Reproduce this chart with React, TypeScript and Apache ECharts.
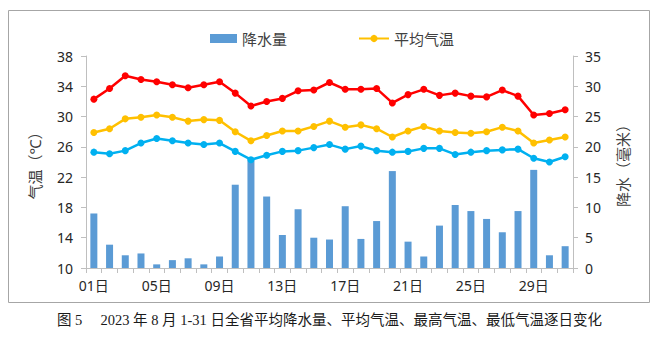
import React, { useEffect, useRef } from "react";
import * as echarts from "echarts";

const days: string[] = Array.from({ length: 31 }, (_, i) => String(i + 1).padStart(2, "0") + "日");

const precip: number[] = [
  9.0, 3.85, 2.1, 2.4, 0.6, 1.3, 1.6, 0.6, 1.9, 13.75,
  18.2, 11.8, 5.45, 9.7, 5.0, 4.7, 10.2, 4.8, 7.75, 16.0,
  4.35, 1.9, 7.0, 10.4, 9.4, 8.1, 5.9, 9.4, 16.2, 2.1, 3.6,
];

const maxTemp: number[] = [
  32.3, 33.7, 35.4, 34.9, 34.6, 34.2, 33.8, 34.2, 34.6, 33.1,
  31.4, 32.0, 32.4, 33.4, 33.5, 34.5, 33.6, 33.6, 33.7, 31.8,
  32.9, 33.6, 32.8, 33.1, 32.7, 32.6, 33.5, 32.7, 30.2, 30.4, 30.9,
];

const avgTemp: number[] = [
  27.9, 28.4, 29.7, 29.9, 30.2, 29.9, 29.4, 29.6, 29.5, 28.0,
  26.8, 27.5, 28.1, 28.1, 28.7, 29.4, 28.6, 28.9, 28.4, 27.3,
  28.1, 28.7, 28.1, 27.9, 27.8, 28.0, 28.6, 28.1, 26.5, 26.9, 27.3,
];

const minTemp: number[] = [
  25.3, 25.1, 25.5, 26.5, 27.1, 26.8, 26.5, 26.3, 26.5, 25.4,
  24.3, 24.9, 25.4, 25.5, 25.9, 26.3, 25.7, 26.1, 25.5, 25.3,
  25.4, 25.8, 25.8, 25.0, 25.3, 25.5, 25.6, 25.7, 24.5, 24.0, 24.7,
];

const tempTicks: number[] = [10, 14, 18, 22, 26, 30, 34, 38];

const caption = "图 5\u3000 2023 年 8 月 1-31 日全省平均降水量、平均气温、最高气温、最低气温逐日变化";

const FONT = "'Noto Sans', 'Noto Sans CJK SC', sans-serif";

export default function App() {
  const ref = useRef<HTMLDivElement>(null);
  useEffect(() => {
    if (!ref.current) return;
    const chart = echarts.init(ref.current, null, { renderer: "svg" });
    const axisColor = "#bfbfbf";
    const labelColor = "#262626";
    const lineSeries = (name: string, data: number[], color: string) => ({
      name,
      type: "line",
      yAxisIndex: 0,
      data,
      symbol: "circle",
      symbolSize: 7,
      lineStyle: { color, width: 2.5 },
      itemStyle: { color },
      z: 3,
    });
    chart.setOption({
      animation: false,
      backgroundColor: "#ffffff",
      textStyle: { fontFamily: FONT },
      grid: { left: 86, right: 86, top: 56, bottom: 71, containLabel: false },
      legend: [
        {
          data: ["降水量"],
          left: 205,
          top: 26,
          itemWidth: 27,
          itemHeight: 9,
          itemGap: 5,
          textStyle: { fontSize: 15, color: "#404040", fontFamily: FONT },
          icon: "rect",
        },
        {
          data: ["平均气温"],
          left: 353,
          top: 26,
          itemWidth: 30,
          itemHeight: 9,
          textStyle: { fontSize: 15, color: "#404040", fontFamily: FONT },
        },
      ],
      xAxis: {
        type: "category",
        data: days,
        boundaryGap: true,
        axisLine: { lineStyle: { color: axisColor, width: 1 } },
        axisTick: { show: true, interval: 0, length: 5, lineStyle: { color: axisColor } },
        axisLabel: { interval: 3, fontSize: 14, color: labelColor, margin: 10, fontFamily: FONT },
        splitLine: { show: false },
      },
      yAxis: [
        {
          type: "value",
          min: 10,
          max: 38,
          position: "left",
          name: "气温（℃）",
          nameLocation: "middle",
          nameRotate: 90,
          nameGap: 44,
          nameTextStyle: { fontSize: 15, color: "#404040", fontFamily: FONT },
          axisLine: { show: true, lineStyle: { color: axisColor } },
          axisTick: { show: true, length: 5, inside: false, customValues: tempTicks, lineStyle: { color: axisColor } },
          axisLabel: { fontSize: 14, color: labelColor, margin: 13, customValues: tempTicks, fontFamily: FONT },
          splitLine: { show: false },
        },
        {
          type: "value",
          min: 0,
          max: 35,
          interval: 5,
          position: "right",
          name: "降水（毫米）",
          nameLocation: "middle",
          nameRotate: 90,
          nameGap: 42,
          nameTextStyle: { fontSize: 15, color: "#404040", fontFamily: FONT },
          axisLine: { show: true, lineStyle: { color: axisColor } },
          axisTick: { show: true, length: 5, inside: false, lineStyle: { color: axisColor } },
          axisLabel: { fontSize: 14, color: labelColor, margin: 12, fontFamily: FONT },
          splitLine: { show: false },
        },
      ],
      series: [
        {
          name: "降水量",
          type: "bar",
          yAxisIndex: 1,
          data: precip,
          barWidth: 7,
          itemStyle: { color: "#5b9bd5" },
          z: 2,
        },
        lineSeries("最高气温", maxTemp, "#ff0000"),
        lineSeries("平均气温", avgTemp, "#ffc000"),
        lineSeries("最低气温", minTemp, "#00b0f0"),
      ],
      graphic: [
        {
          type: "rect",
          shape: { x: 8.5, y: 10.5, width: 641, height: 292 },
          style: { fill: "none", stroke: "#a6a6a6", lineWidth: 1 },
          silent: true,
          z: -1,
        },
        {
          type: "text",
          left: 57,
          top: 313,
          style: {
            text: caption,
            fontSize: 14.5,
            fill: "#1a1a1a",
            fontFamily: "'Liberation Serif', 'Noto Sans CJK SC', serif",
          },
        },
      ],
    });
    return () => chart.dispose();
  }, []);
  return (
    <div
      ref={ref}
      style={{ position: "fixed", left: 0, top: 0, width: 659, height: 339 }}
    />
  );
}
